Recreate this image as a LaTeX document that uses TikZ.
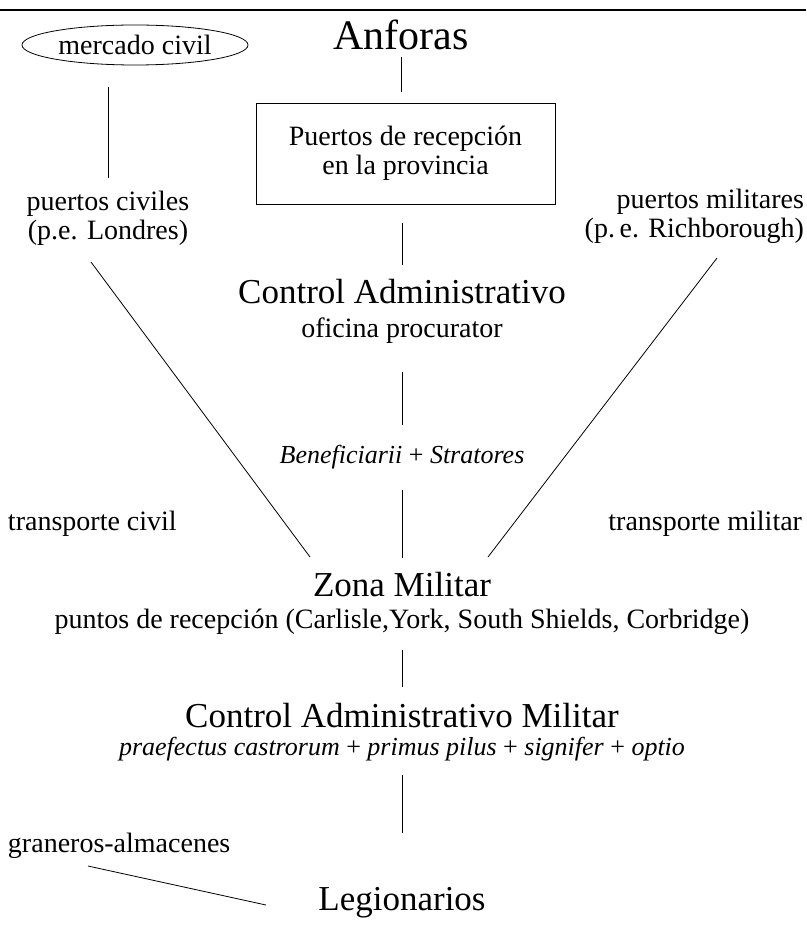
\documentclass[tikz,border=0pt]{standalone}
\usepackage{fontspec}
\setmainfont{Liberation Serif}
\usetikzlibrary{shapes.geometric}
\begin{document}
\begin{tikzpicture}[x=1pt,y=-1pt,
  every node/.style={inner sep=0pt, outer sep=0pt},
  bodytxt/.style={font=\fontsize{28}{29}\selectfont, align=center},
  itatxt/.style={font=\fontsize{26}{29}\selectfont\itshape},
  headtxt/.style={font=\fontsize{35}{38}\selectfont},
  titletxt/.style={font=\fontsize{42}{46}\selectfont},
  link/.style={draw=black, line width=0.8pt},
]
\useasboundingbox (0,0) rectangle (806,936);
\coordinate (r1) at (0,10);
\coordinate (r2) at (806,10);
\draw[line width=1.5pt] (r1) -- (r2);

% nodes
\node[draw, ellipse, line width=0.8pt, minimum width=226pt, minimum height=40pt, bodytxt] (mc) at (135,45) {mercado civil};
\node[titletxt, anchor=base] (anf) at (401,50) {Anforas};
\node[draw, line width=0.8pt, minimum width=299pt, minimum height=101pt, bodytxt] (box) at (405.5,153.5) {Puertos de recepción\\en la provincia};
\node[bodytxt] (pc) at (108,218) {puertos civiles\\(p.e. Londres)};
\node[bodytxt, align=right, anchor=east] (pm) at (804,216) {puertos militares\\(p.\,e. Richborough)};
\node[headtxt, anchor=base] (ca) at (402,303) {Control Administrativo};
\node[bodytxt, anchor=base] (op) at (402,337) {oficina procurator};
\node[itatxt, anchor=base] (bs) at (402,463) {Beneficiarii \upshape+\itshape{} Stratores};
\node[bodytxt, anchor=base west] (tc) at (8,530) {transporte civil};
\node[bodytxt, anchor=base east] (tm) at (802,530) {transporte militar};
\node[headtxt, anchor=base] (zm) at (402,596) {Zona Militar};
\node[bodytxt, anchor=base] (pr) at (402,628) {puntos de recepción (Carlisle,York, South Shields, Corbridge)};
\node[headtxt, anchor=base] (cam) at (402,727) {Control Administrativo Militar};
\node[itatxt, anchor=base] (pp) at (402,755) {praefectus castrorum \upshape+\itshape{} primus pilus \upshape+\itshape{} signifer \upshape+\itshape{} optio};
\node[bodytxt, anchor=base west] (gr) at (8,852) {graneros-almacenes};
\node[headtxt, anchor=base] (leg) at (402,910) {Legionarios};

% connectors
\draw[link, shorten <=7pt, shorten >=11pt] (anf.base) -- (anf.base |- box.north);
\draw[link, shorten <=22pt, shorten >=13pt] (pc.north |- mc.south) -- (pc.north);
\draw[link, shorten <=18.5pt, shorten >=38pt] (box.south -| ca.base) -- (ca.base);
\draw[link, shorten <=35pt, shorten >=38pt] (op.base) -- (bs.base);
\draw[link, shorten <=27pt, shorten >=38pt] (bs.base) -- (zm.base);
\draw[link, shorten <=22pt, shorten >=40pt] (pr.base) -- (cam.base);
\draw[link, shorten <=20pt, shorten >=77pt] (pp.base) -- (leg.base);
\coordinate (dl1) at (91,262);
\coordinate (dl2) at (310,557);
\coordinate (dr1) at (717,258);
\coordinate (dr2) at (488,557);
\draw[link] (dl1) -- (dl2);
\draw[link] (dr1) -- (dr2);
\coordinate (gl1) at (88,866);
\coordinate (gl2) at (266,905);
\draw[link] (gl1) -- (gl2);
\end{tikzpicture}
\end{document}
